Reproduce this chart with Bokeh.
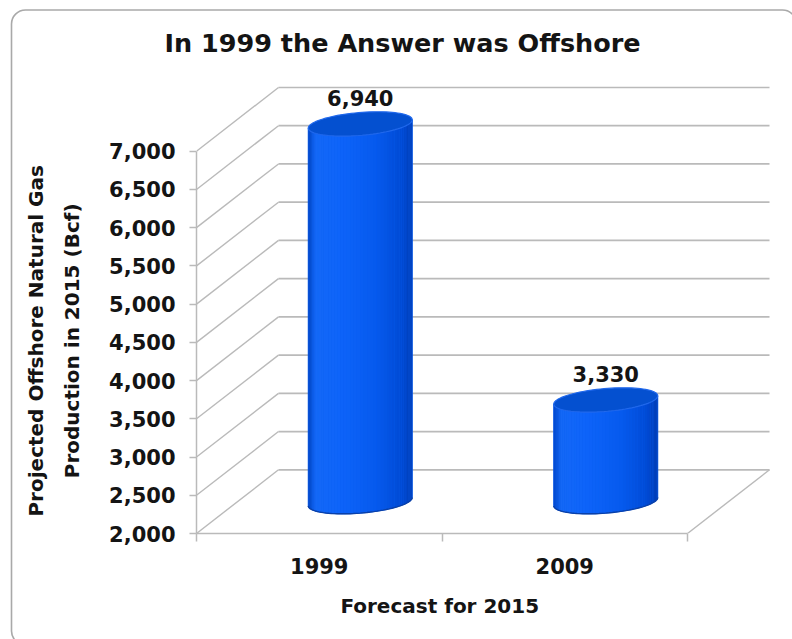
import math
from urllib.parse import quote
from bokeh.plotting import figure
from bokeh.models import Range1d, FixedTicker, NumeralTickFormatter
from bokeh.embed import file_html
from bokeh.resources import INLINE
from bokeh.core.properties import value

# ---------------- data ----------------
title_text = "In 1999 the Answer was Offshore"
categories = ["1999", "2009"]
values = [6940, 3330]
y_ticks = [2000, 2500, 3000, 3500, 4000, 4500, 5000, 5500, 6000, 6500, 7000]
x_title = "Forecast for 2015"
y_title_lines = ["Projected Offshore Natural Gas", "Production in 2015 (Bcf)"]

# ---------------- layout / style constants ----------------
FONT = "DejaVu Sans"
TEXT_COLOR = "#141414"
GRID_COLOR = "#bababa"
PX_X = 245.5            # pixels per category
PX_Y = 38.4 / 500.0     # pixels per value unit
FRAME_W, FRAME_H = 577, 450
Y0 = y_ticks[0]
DX = 82 / PX_X          # depth offset (x units)
DY = 64 / PX_Y          # depth offset (value units)
R_PX = 52.0             # cylinder half width (px)
B_PX = 11.5             # ellipse half height (px)
SHEAR = 0.08            # slight tilt of the ellipses
N_STRIPS = 48
NB = "\u00a0"           # padding used to move centred axis titles

n = len(categories)

p = figure(width=792, height=639,
           x_range=Range1d(0, FRAME_W / PX_X),
           y_range=Range1d(Y0, Y0 + FRAME_H / PX_Y),
           output_backend="svg", toolbar_location=None,
           min_border_left=196, min_border_right=792 - 196 - FRAME_W,
           min_border_top=83, min_border_bottom=639 - 83 - FRAME_H,
           background_fill_color=None, border_fill_color=None,
           outline_line_color=None)
p.grid.visible = False

# rounded border of the chart area (page background)
svg_bg = ("<svg xmlns='http://www.w3.org/2000/svg' width='792' height='639'>"
          "<rect x='11.5' y='10' width='785' height='635' rx='14' ry='14' "
          "fill='white' stroke='#a9a9a9' stroke-width='1.6'/></svg>")
p.styles = {"background-image": 'url("data:image/svg+xml,' + quote(svg_bg) + '")',
            "background-repeat": "no-repeat"}

# ---------------- title ----------------
p.title.text = title_text
p.title.align = "left"
p.title.offset = -32
p.title.vertical_align = "middle"
p.title.standoff = 53
p.title.text_font = FONT
p.title.text_font_style = "bold"
p.title.text_font_size = "25.5px"
p.title.text_color = TEXT_COLOR

# ---------------- axes ----------------
ya = p.yaxis[0]
ya.ticker = FixedTicker(ticks=y_ticks, minor_ticks=[])
ya.bounds = (y_ticks[0], y_ticks[-1])
ya.formatter = NumeralTickFormatter(format="0,0")
ya.axis_line_color = GRID_COLOR
ya.axis_line_width = 1.5
ya.major_tick_line_color = GRID_COLOR
ya.major_tick_line_width = 1.5
ya.major_tick_out = 7
ya.major_tick_in = 0
ya.minor_tick_line_color = None
ya.major_label_text_font = FONT
ya.major_label_text_font_style = "bold"
ya.major_label_text_font_size = "21px"
ya.major_label_text_color = TEXT_COLOR
ya.major_label_standoff = 14
ya.axis_label = "\n".join(line + NB * 9 for line in y_title_lines)
ya.axis_label_text_font = FONT
ya.axis_label_text_font_style = "bold"
ya.axis_label_text_font_size = "20px"
ya.axis_label_text_color = TEXT_COLOR
ya.axis_label_text_line_height = 1.5
ya.axis_label_standoff = 22

xa = p.xaxis[0]
xa.ticker = FixedTicker(ticks=[i + 0.5 for i in range(n)], minor_ticks=list(range(n + 1)))
xa.bounds = (0, n)
xa.major_label_overrides = {i + 0.5: c for i, c in enumerate(categories)}
xa.axis_line_color = GRID_COLOR
xa.axis_line_width = 1.5
xa.major_tick_line_color = None
xa.major_tick_out = 8
xa.major_tick_in = 0
xa.minor_tick_line_color = GRID_COLOR
xa.minor_tick_line_width = 1.5
xa.minor_tick_out = 8
xa.minor_tick_in = 0
xa.major_label_text_font = FONT
xa.major_label_text_font_style = "bold"
xa.major_label_text_font_size = "21px"
xa.major_label_text_color = TEXT_COLOR
xa.major_label_standoff = 16
xa.axis_label = x_title + NB * 13
xa.axis_label_text_font = FONT
xa.axis_label_text_font_style = "bold"
xa.axis_label_text_font_size = "20px"
xa.axis_label_text_color = TEXT_COLOR
xa.axis_label_standoff = 17

# ---------------- 3D walls ----------------
p.segment(x0=[DX] * len(y_ticks), y0=[t + DY for t in y_ticks],
          x1=[n + DX] * len(y_ticks), y1=[t + DY for t in y_ticks],
          line_color=GRID_COLOR, line_width=1.7)
p.segment(x0=[0] * len(y_ticks), y0=y_ticks,
          x1=[DX] * len(y_ticks), y1=[t + DY for t in y_ticks],
          line_color=GRID_COLOR, line_width=1.4)
p.segment(x0=[n], y0=[Y0], x1=[n + DX], y1=[Y0 + DY],
          line_color=GRID_COLOR, line_width=1.4)

# ---------------- cylinders ----------------
stops = [(0.0, (0, 66, 192)), (0.07, (20, 104, 246)), (0.3, (14, 100, 250)),
         (0.65, (6, 90, 238)), (0.9, (0, 74, 212)), (1.0, (0, 60, 178))]


def shade(t):
    for (t0, c0), (t1, c1) in zip(stops[:-1], stops[1:]):
        if t0 <= t <= t1:
            f = (t - t0) / (t1 - t0) if t1 > t0 else 0
            return "#%02x%02x%02x" % tuple(int(round(a + (b - a) * f)) for a, b in zip(c0, c1))
    return "#%02x%02x%02x" % stops[-1][1]


strip_xs, strip_ys, strip_cols = [], [], []
body_xs, body_ys = [], []
cap_xs, cap_ys = [], []
bot_xs, bot_ys = [], []
lab_x, lab_y, lab_t = [], [], []

for i, v in enumerate(values):
    cx = i + 0.5 + DX / 2
    yb = Y0 + DY / 2
    yt = v + DY / 2
    us = [-math.cos(math.pi * j / N_STRIPS) for j in range(N_STRIPS + 1)]

    def bot(u):
        return yb - (B_PX * math.sqrt(max(0.0, 1 - u * u)) - SHEAR * u * R_PX) / PX_Y

    def top(u):
        return yt + SHEAR * u * R_PX / PX_Y

    for j in range(N_STRIPS):
        u0, u1 = us[j], us[j + 1]
        x0 = cx + u0 * R_PX / PX_X
        x1 = cx + u1 * R_PX / PX_X
        strip_xs.append([x0, x1, x1, x0])
        strip_ys.append([bot(u0), bot(u1), top(u1), top(u0)])
        strip_cols.append(shade((u0 + u1) / 4 + 0.5))

    body_xs.append([cx + u * R_PX / PX_X for u in us] + [cx + u * R_PX / PX_X for u in reversed(us)])
    body_ys.append([bot(u) for u in us] + [top(u) for u in reversed(us)])

    th = [2 * math.pi * k / 90 for k in range(91)]
    cap_xs.append([cx + math.cos(a) * R_PX / PX_X for a in th])
    cap_ys.append([yt + (B_PX * math.sin(a) + SHEAR * math.cos(a) * R_PX) / PX_Y for a in th])
    bot_xs.append([cx + u * R_PX / PX_X for u in us])
    bot_ys.append([bot(u) for u in us])
    lab_x.append(cx)
    lab_y.append(yt)
    lab_t.append(f"{v:,}")

p.patches(body_xs, body_ys, fill_color="#0a5ef0", line_color="#0a5ef0", line_width=1)
p.patches(strip_xs, strip_ys, fill_color=strip_cols, line_color=None)
p.multi_line(bot_xs, bot_ys, line_color="#0a40a8", line_width=1.4)
p.patches(cap_xs, cap_ys, fill_color="#0450d0", line_color="#2068ec", line_width=1.2)

p.text(x=lab_x, y=lab_y, text=lab_t, text_align="center", text_baseline="alphabetic",
       y_offset=-26, text_font=value(FONT), text_font_style="bold",
       text_font_size="21px", text_color=TEXT_COLOR)

open("out.html", "w").write(file_html(p, INLINE))
